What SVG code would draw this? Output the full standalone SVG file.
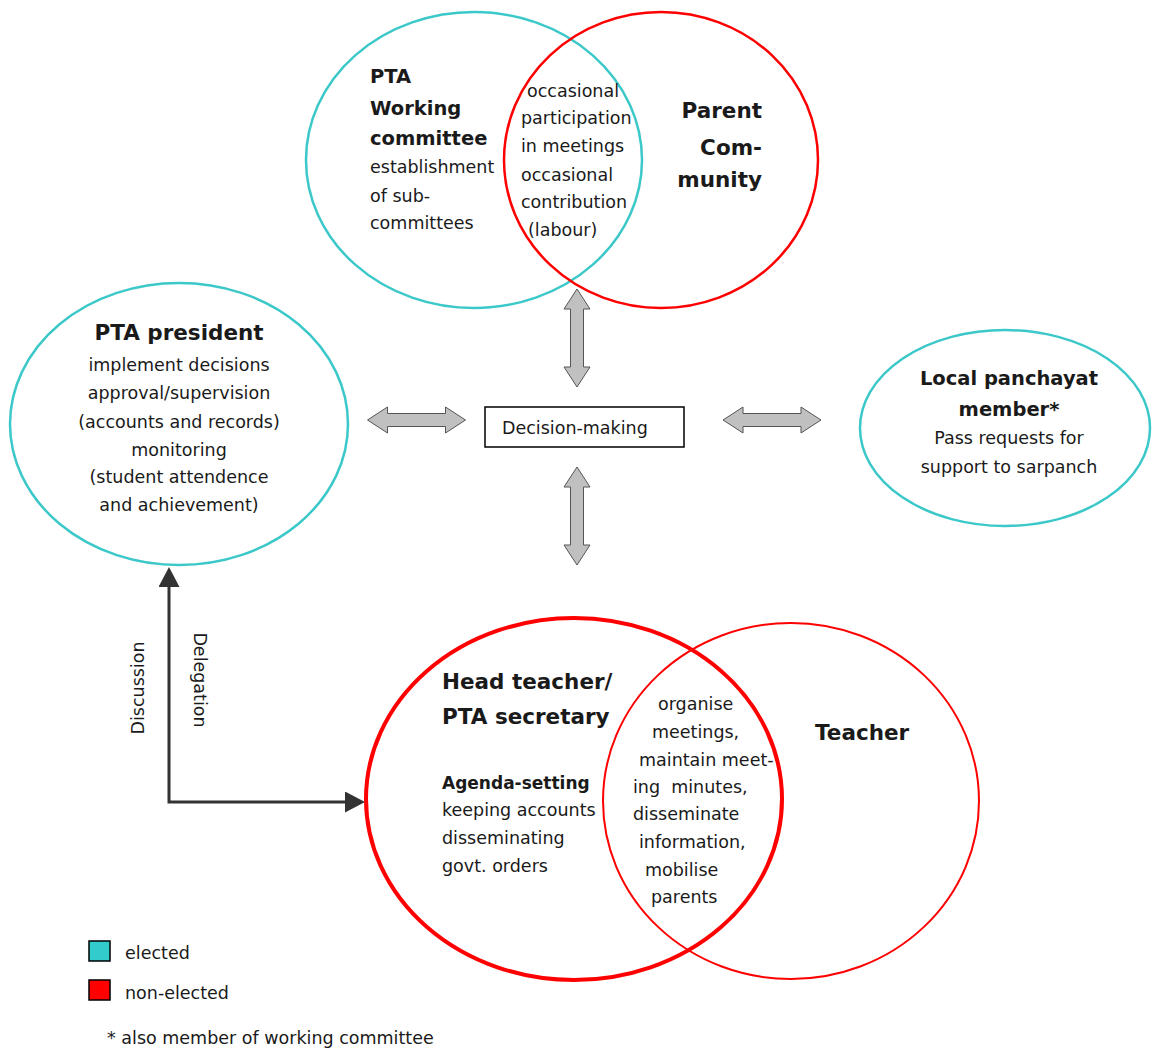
<svg xmlns="http://www.w3.org/2000/svg" width="1153" height="1048" viewBox="0 0 1153 1048">
<defs>
<style>
text{font-family:"DejaVu Sans","Liberation Sans",sans-serif;fill:#1a1a1a;font-size:17.5px}
.b{font-weight:bold;font-size:21.5px}
.bs{font-weight:bold;font-size:19.5px}
.b2{font-weight:bold;font-size:17px}
.cy{fill:none;stroke:#3cc8c8;stroke-width:2.5}
.rd{fill:none;stroke:#ff0000;stroke-width:2.5}
.ga{fill:#c0c0c0;stroke:#555;stroke-width:1}
.con{fill:none;stroke:#333;stroke-width:3}
</style>
<marker id="ah" viewBox="0 0 20 21" refX="0" refY="10.5" markerWidth="20" markerHeight="21" markerUnits="userSpaceOnUse" orient="auto-start-reverse">
<path d="M0,0 L20,10.5 L0,21 z" fill="#333"/>
</marker>
<path id="dv" d="M0,-49 L13,-29 L6.5,-29 L6.5,29 L13,29 L0,49 L-13,29 L-6.5,29 L-6.5,-29 L-13,-29 z"/>
</defs>
<rect width="1153" height="1048" fill="#fff"/>

<g id="pta-working-committee">
<ellipse class="cy" cx="474" cy="160" rx="168" ry="148"/>
<text class="bs" x="370" y="83">PTA</text>
<text class="bs" x="370" y="115">Working</text>
<text class="bs" x="370" y="145">committee</text>
<text x="370" y="173">establishment</text>
<text x="370" y="202">of sub-</text>
<text x="370" y="229">committees</text>
</g>

<g id="parent-community">
<ellipse class="rd" cx="661" cy="160" rx="157" ry="148"/>
<text class="b" x="762" y="118" text-anchor="end">Parent</text>
<text class="b" x="762" y="155" text-anchor="end">Com-</text>
<text class="b" x="762" y="187" text-anchor="end">munity</text>
</g>

<g id="overlap-top">
<text x="527" y="97">occasional</text>
<text x="521" y="124">participation</text>
<text x="521" y="152">in meetings</text>
<text x="521" y="181">occasional</text>
<text x="521" y="208">contribution</text>
<text x="528" y="236">(labour)</text>
</g>

<g id="pta-president">
<ellipse class="cy" cx="179" cy="424" rx="169" ry="141"/>
<text class="b" x="179" y="340" text-anchor="middle">PTA president</text>
<text x="179" y="371" text-anchor="middle">implement decisions</text>
<text x="179" y="399" text-anchor="middle">approval/supervision</text>
<text x="179" y="428" text-anchor="middle">(accounts and records)</text>
<text x="179" y="456" text-anchor="middle">monitoring</text>
<text x="179" y="483" text-anchor="middle">(student attendence</text>
<text x="179" y="511" text-anchor="middle">and achievement)</text>
</g>

<g id="local-panchayat">
<ellipse class="cy" cx="1005" cy="428" rx="145" ry="98"/>
<text class="bs" x="1009" y="385" text-anchor="middle">Local panchayat</text>
<text class="bs" x="1009" y="416" text-anchor="middle">member*</text>
<text x="1009" y="444" text-anchor="middle">Pass requests for</text>
<text x="1009" y="473" text-anchor="middle">support to sarpanch</text>
</g>

<g id="decision-making">
<rect x="485" y="407" width="199" height="40" fill="#fff" stroke="#000" stroke-width="1.5"/>
<text x="502" y="434">Decision-making</text>
</g>

<g id="head-teacher">
<ellipse cx="574" cy="799" rx="208" ry="181" fill="none" stroke="#ff0000" stroke-width="4"/>
<text class="b" x="442" y="689">Head teacher/</text>
<text class="b" x="442" y="724">PTA secretary</text>
<text class="b2" x="442" y="789">Agenda-setting</text>
<text x="442" y="816">keeping accounts</text>
<text x="442" y="844">disseminating</text>
<text x="442" y="872">govt. orders</text>
</g>

<g id="teacher">
<ellipse cx="791" cy="801" rx="188" ry="178" fill="none" stroke="#ff0000" stroke-width="2"/>
<text class="b" x="815" y="740">Teacher</text>
</g>

<g id="overlap-bottom">
<text x="658" y="710">organise</text>
<text x="652" y="738">meetings,</text>
<text x="639" y="766">maintain meet-</text>
<text x="633" y="793" style="white-space:pre">ing  minutes,</text>
<text x="633" y="820">disseminate</text>
<text x="639" y="848">information,</text>
<text x="645" y="876">mobilise</text>
<text x="651" y="903">parents</text>
</g>

<g id="connectors">
<use href="#dv" class="ga" transform="translate(577,338)"/>
<use href="#dv" class="ga" transform="translate(577,516)"/>
<use href="#dv" class="ga" transform="translate(416.5,420) rotate(90)"/>
<use href="#dv" class="ga" transform="translate(772,420) rotate(90)"/>
<path class="con" d="M169,587 L169,802 L345,802" marker-start="url(#ah)" marker-end="url(#ah)"/>
<text transform="translate(144,688) rotate(-90)" text-anchor="middle">Discussion</text>
<text transform="translate(194,680) rotate(90)" text-anchor="middle">Delegation</text>
</g>

<g id="legend">
<rect x="89" y="941" width="21" height="20" fill="#33cccc" stroke="#000" stroke-width="1.5"/>
<text x="125" y="959">elected</text>
<rect x="89" y="980" width="21" height="20" fill="#ff0000" stroke="#000" stroke-width="1.5"/>
<text x="125" y="999">non-elected</text>
<text x="107" y="1044">* also member of working committee</text>
</g>
</svg>
